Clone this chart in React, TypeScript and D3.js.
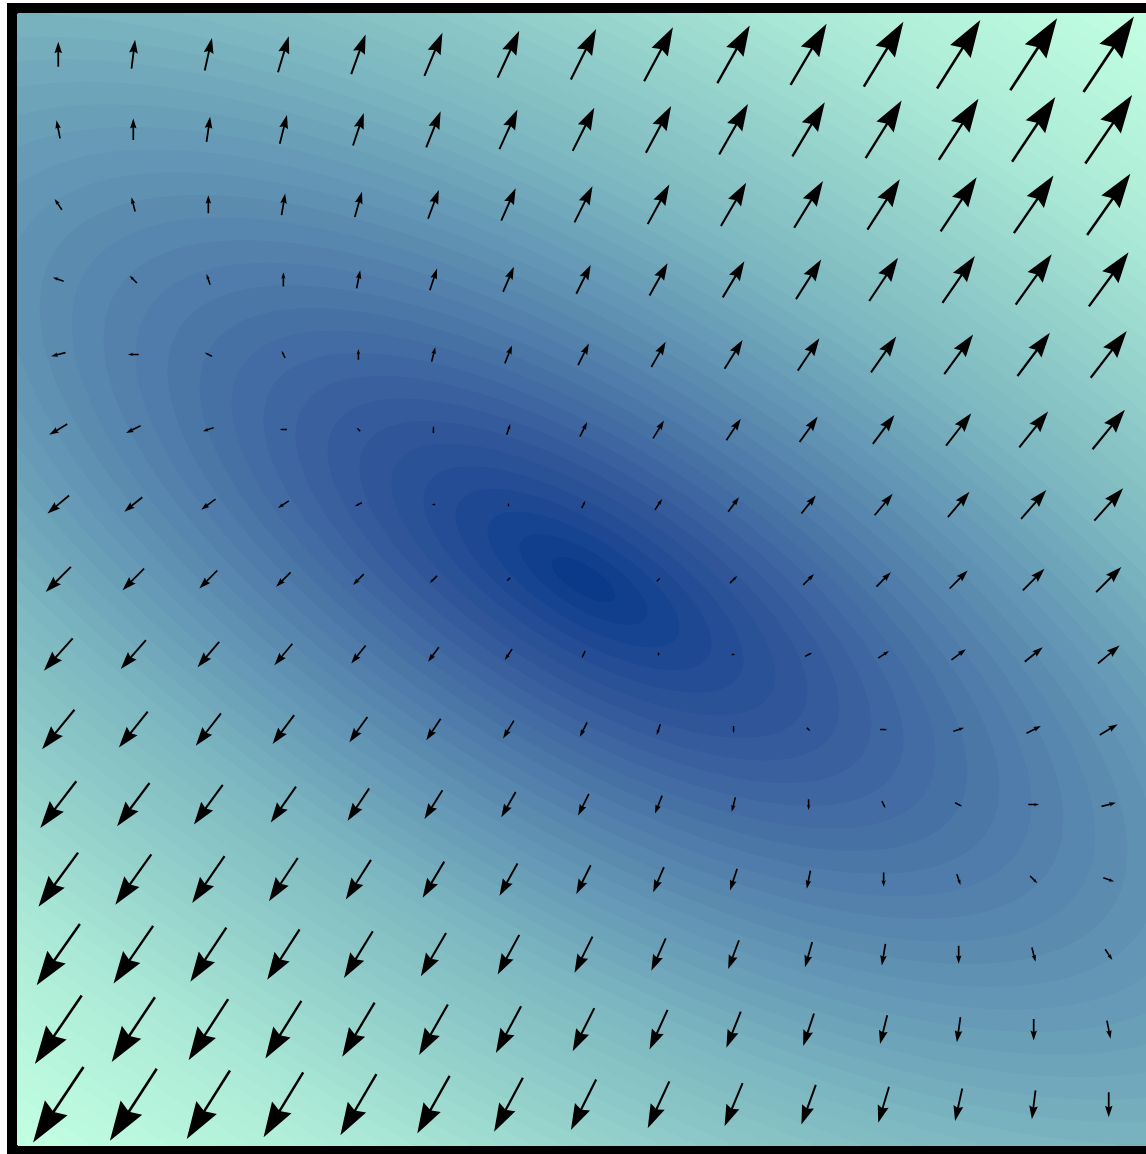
import { useEffect, useRef } from "react";
import * as d3 from "d3";

// grid of arrow positions (data units)
const gridX = [-7, -6, -5, -4, -3, -2, -1, 0, 1, 2, 3, 4, 5, 6, 7];
const gridY = [7, 6, 5, 4, 3, 2, 1, 0, -1, -2, -3, -4, -5, -6, -7];

// f(x, y) = cXX*x^2 + cXY*x*y + cYY*y^2
const cXX = 1;
const cXY = 2;
const cYY = 2;

const domainX: [number, number] = [-7.55, 7.55];
const domainY: [number, number] = [7.55, -7.55];

// colour stops along t = sqrt(f / fmax)
const colorStops = [0, 0.13, 0.29, 0.45, 0.62, 0.78, 1];
const colorValues = ["#08388a", "#355a9b", "#5a8bb0", "#7bb5c0", "#95d2cb", "#aeecd8", "#c2ffe2"];

const W = 1146;
const H = 1154;
const left = 17;
const top = 13;
const size = 1133;

export default function App() {
  const ref = useRef<SVGSVGElement | null>(null);

  useEffect(() => {
    if (!ref.current) return;
    const svg = d3.select(ref.current);
    svg.selectAll("*").remove();

    const x = d3.scaleLinear().domain(domainX).range([left, left + size]);
    const y = d3.scaleLinear().domain(domainY).range([top, top + size]);

    const f = (a: number, b: number) => cXX * a * a + cXY * a * b + cYY * b * b;
    const fmax = Math.max(f(domainX[1], domainY[0]), f(domainX[0], domainY[0]));

    const color = d3
      .scaleLinear<string>()
      .domain(colorStops)
      .range(colorValues)
      .interpolate(d3.interpolateRgb);

    // background filled contours
    const n = 300;
    const values = new Array(n * n);
    for (let j = 0; j < n; j++) {
      const yy = domainY[0] + ((j + 0.5) / n) * (domainY[1] - domainY[0]);
      for (let i = 0; i < n; i++) {
        const xx = domainX[0] + ((i + 0.5) / n) * (domainX[1] - domainX[0]);
        values[j * n + i] = Math.sqrt(f(xx, yy) / fmax);
      }
    }
    const levels = 56;
    const thresholds = d3.range(levels).map((k) => k / levels);
    const contours = d3.contours().size([n, n]).thresholds(thresholds)(values);
    const path = d3.geoPath(
      d3.geoIdentity().scale(size / n).translate([left, top]) as any
    );

    const g = svg.append("g");
    g.append("rect")
      .attr("x", left)
      .attr("y", top)
      .attr("width", size)
      .attr("height", size)
      .attr("fill", color(0));
    g.selectAll("path")
      .data(contours)
      .enter()
      .append("path")
      .attr("d", path as any)
      .attr("fill", (d) => color(Math.min(1, d.value + 0.5 / levels)));

    // gradient arrows, pivot at middle
    const scale = 1.8;
    const arrows = svg.append("g");
    gridY.forEach((gy) => {
      gridX.forEach((gx) => {
        const u = 2 * cXX * gx + cXY * gy;
        const v = cXY * gx + 2 * cYY * gy;
        const dx = u * scale;
        const dy = -v * scale;
        const L = Math.hypot(dx, dy);
        if (L < 0.5) return;
        const ang = (Math.atan2(dy, dx) * 180) / Math.PI;
        const w = 0.7 + 0.007 * L;
        const hl = 0.46 * L;
        const hal = 0.41 * L;
        const hw = 0.15 * L;
        const pts: [number, number][] = [
          [0, -w],
          [L - hal, -w],
          [L - hl, -hw],
          [L, 0],
          [L - hl, hw],
          [L - hal, w],
          [0, w],
        ];
        arrows
          .append("polygon")
          .attr("points", pts.map((p) => p.join(",")).join(" "))
          .attr(
            "transform",
            `translate(${x(gx)},${y(gy)}) rotate(${ang}) translate(${-L / 2},0)`
          )
          .attr("fill", "#000");
      });
    });

    // frame
    svg
      .append("rect")
      .attr("x", left - 5)
      .attr("y", top - 5)
      .attr("width", size + 10)
      .attr("height", size + 10)
      .attr("fill", "none")
      .attr("stroke", "#000")
      .attr("stroke-width", 10);
  }, []);

  return (
    <svg
      ref={ref}
      width={W}
      height={H}
      style={{ position: "absolute", left: 0, top: 0, background: "#fff" }}
    />
  );
}
